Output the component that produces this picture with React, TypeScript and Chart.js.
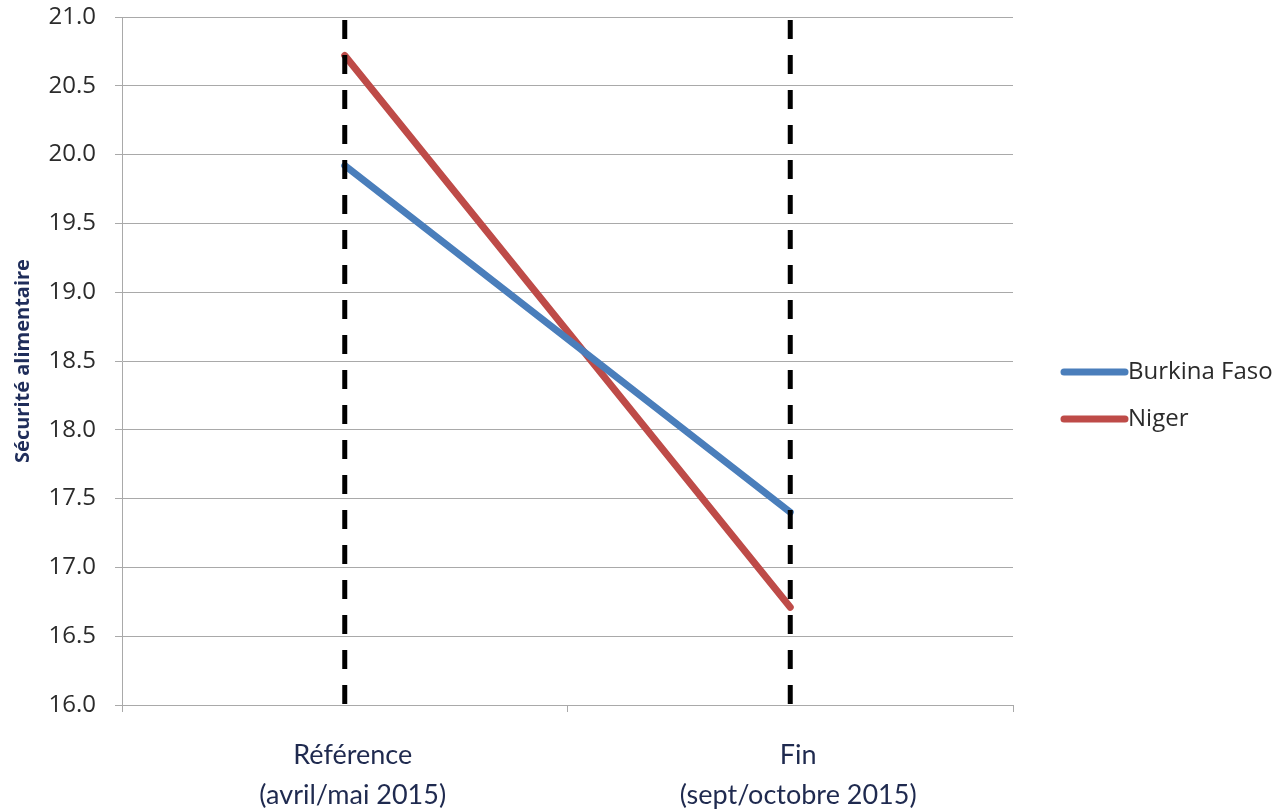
import { useEffect, useRef } from "react";
import { Chart, registerables } from "chart.js";

Chart.register(...registerables);

// Survey rounds (two-line category labels)
const periods: string[][] = [
  ["Référence", "(avril/mai 2015)"],
  ["Fin", "(sept/octobre 2015)"],
];

// Mean food-security score per country and round
const burkinaFaso = [19.92, 17.4];
const niger = [20.72, 16.71];

const seriesNames = ["Burkina Faso", "Niger"];
const seriesColors = ["#4a7ebb", "#be4b48"];

const yAxisTitle = "Sécurité alimentaire";
const yMin = 16;
const yMax = 21;
const yStep = 0.5;

const gridColor = "#a9a9a9";
const tickFont = "Open Sans";

// Dashed black markers at each survey round
const periodMarkers = {
  id: "periodMarkers",
  afterDatasetsDraw(chart: any) {
    const { ctx, chartArea } = chart;
    const x = chart.scales.x;
    ctx.save();
    ctx.strokeStyle = "#000";
    ctx.lineWidth = 5;
    ctx.setLineDash([19, 16]);
    ctx.lineDashOffset = -3;
    periods.forEach((_, i) => {
      const px = x.getPixelForValue(i);
      ctx.beginPath();
      ctx.moveTo(px, chartArea.top);
      ctx.lineTo(px, chartArea.bottom);
      ctx.stroke();
    });
    ctx.restore();
  },
};

// Legend on the right: thick line sample followed by the series name
const sideLegend = {
  id: "sideLegend",
  afterDraw(chart: any) {
    const { ctx, chartArea } = chart;
    const midY = (chartArea.top + chartArea.bottom) / 2;
    ctx.save();
    chart.data.datasets.forEach((ds: any, i: number) => {
      const y = midY + 11 + i * 47;
      const x0 = chartArea.right + 51;
      const x1 = x0 + 61;
      ctx.strokeStyle = ds.borderColor;
      ctx.lineWidth = 7;
      ctx.lineCap = "round";
      ctx.beginPath();
      ctx.moveTo(x0, y);
      ctx.lineTo(x1, y);
      ctx.stroke();
      ctx.fillStyle = "#2b2b2b";
      ctx.font = `24px "${tickFont}"`;
      ctx.textBaseline = "middle";
      ctx.textAlign = "left";
      ctx.fillText(ds.label, x1 + 3, y);
    });
    ctx.restore();
  },
};

export default function App() {
  const canvasRef = useRef<HTMLCanvasElement | null>(null);

  useEffect(() => {
    const canvas = canvasRef.current;
    if (!canvas) return;
    const chart = new Chart(canvas, {
      type: "line",
      data: {
        labels: periods,
        datasets: [
          {
            label: seriesNames[0],
            data: burkinaFaso,
            borderColor: seriesColors[0],
            backgroundColor: seriesColors[0],
            borderWidth: 7,
            borderCapStyle: "round",
            pointRadius: 0,
            tension: 0,
          },
          {
            label: seriesNames[1],
            data: niger,
            borderColor: seriesColors[1],
            backgroundColor: seriesColors[1],
            borderWidth: 7,
            borderCapStyle: "round",
            pointRadius: 0,
            tension: 0,
          },
        ],
      },
      options: {
        responsive: false,
        animation: false,
        devicePixelRatio: 1,
        layout: { padding: { left: 6, top: 17, right: 271, bottom: 0 } },
        plugins: {
          legend: { display: false },
          tooltip: { enabled: false },
        },
        scales: {
          x: {
            type: "category",
            offset: true,
            grid: {
              offset: true,
              drawOnChartArea: false,
              drawTicks: true,
              tickLength: 7,
              color: gridColor,
            },
            border: { color: gridColor },
            ticks: {
              color: "#1f2a4f",
              padding: 23,
              labelOffset: 8,
              maxRotation: 0,
              font: { family: "Lato", size: 27, lineHeight: 40 / 27 },
            },
            afterFit(scale: any) {
              scale.height = 106;
            },
          },
          y: {
            min: yMin,
            max: yMax,
            grid: { color: gridColor, tickLength: 7 },
            border: { color: gridColor },
            ticks: {
              stepSize: yStep,
              color: "#2b2b2b",
              padding: 19,
              font: { family: tickFont, size: 24, lineHeight: 1.2 },
              callback: (v: any) => Number(v).toFixed(1),
            },
            title: {
              display: true,
              text: yAxisTitle,
              color: "#1f2d5a",
              font: { family: "Open Sans", size: 20, weight: "bold" },
              padding: { top: 5, bottom: 0 },
            },
            afterFit(scale: any) {
              scale.width = 116;
              scale.paddingTop = 0;
              scale.paddingBottom = 0;
            },
          },
        },
      },
      plugins: [periodMarkers, sideLegend],
    });
    return () => chart.destroy();
  }, []);

  return (
    <div style={{ position: "fixed", left: 0, top: 0, width: 1284, height: 811, background: "#fff" }}>
      <canvas ref={canvasRef} width={1284} height={811} style={{ display: "block" }} />
    </div>
  );
}
